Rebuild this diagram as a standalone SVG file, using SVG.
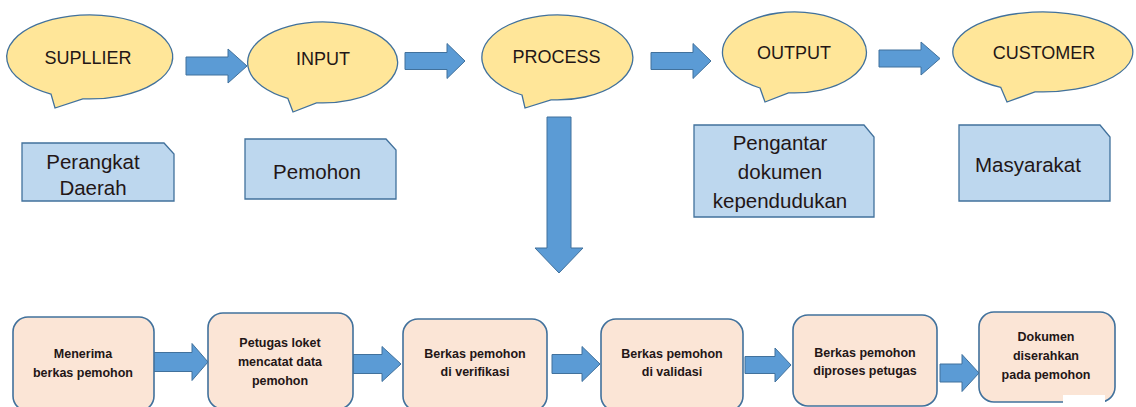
<svg xmlns="http://www.w3.org/2000/svg" width="1136" height="407" viewBox="0 0 1136 407">
<style>
.callout{fill:#FFE699;stroke:#41719C;stroke-width:1.3}
.doc{fill:#BDD7EE;stroke:#41719C;stroke-width:1.3}
.box{fill:#FBE5D6;stroke:#41719C;stroke-width:1.6}
.arrow{fill:#5B9BD5;stroke:#41719C;stroke-width:1}
.t1{font-family:"Liberation Sans",Arial,sans-serif;font-size:18px;fill:#231616;text-anchor:middle}
.t2{font-family:"Liberation Sans",Arial,sans-serif;font-size:20.5px;fill:#231616;text-anchor:middle}
.t3{font-family:"Liberation Sans",Arial,sans-serif;font-size:12.5px;font-weight:bold;fill:#231616;text-anchor:middle}
</style>
<rect width="1136" height="407" fill="#ffffff"/>
<g id="connectors">
<path class="arrow" d="M186,57 L228,57 L228,49 L247,66 L228,83 L228,75 L186,75 Z"/>
<path class="arrow" d="M405,52.5 L447,52.5 L447,43.5 L465,61 L447,78.5 L447,69.5 L405,69.5 Z"/>
<path class="arrow" d="M651,52.5 L693,52.5 L693,43.5 L711,61 L693,78.5 L693,69.5 L651,69.5 Z"/>
<path class="arrow" d="M879,50 L921,50 L921,42 L940,58.5 L921,75 L921,67 L879,67 Z"/>
<path class="arrow" d="M547,117 L571,117 L571,248 L583,248 L559,273 L535,248 L547,248 Z"/>
<path class="arrow" d="M153,352.5 L192,352.5 L192,343.5 L208,362 L192,380.5 L192,371.5 L153,371.5 Z"/>
<path class="arrow" d="M353,354.5 L382,354.5 L382,346.5 L401,364 L382,381.5 L382,373.5 L353,373.5 Z"/>
<path class="arrow" d="M552,354.5 L582,354.5 L582,346.5 L600,364 L582,381.5 L582,373.5 L552,373.5 Z"/>
<path class="arrow" d="M745,356.5 L775,356.5 L775,348 L791,365 L775,382 L775,373.5 L745,373.5 Z"/>
<path class="arrow" d="M940,364 L962,364 L962,354.5 L979,373 L962,391.5 L962,382 L940,382 Z"/>
</g>
<g id="supllier">
<path class="callout" d="M51,94.1 A83,42 0 1 1 82.8,98.8 L55,108 Z"/>
<text class="t1" x="88" y="64">SUPLLIER</text>
</g>
<g id="input">
<path class="callout" d="M287.8,98.3 A75,40.5 0 1 1 316.5,102.8 L293,112 Z"/>
<text class="t1" x="323" y="65">INPUT</text>
</g>
<g id="process">
<path class="callout" d="M522,95 A75.5,42.5 0 1 1 551,99.8 L525,108 Z"/>
<text class="t1" x="556.5" y="63">PROCESS</text>
</g>
<g id="output">
<path class="callout" d="M760,88 A72,40.5 0 1 1 788.5,92.8 L765,102 Z"/>
<text class="t1" x="794" y="59">OUTPUT</text>
</g>
<g id="customer">
<path class="callout" d="M1000.7,87.3 A90,40 0 1 1 1035,91.8 L1007,102 Z"/>
<text class="t1" x="1044" y="59">CUSTOMER</text>
</g>
<g id="doc-perangkat">
<path class="doc" d="M22,143 L164,143 L174,154 L174,201 L22,201 Z"/>
<text class="t2" x="93" y="169">Perangkat</text>
<text class="t2" x="93" y="195">Daerah</text>
</g>
<g id="doc-pemohon">
<path class="doc" d="M245,139 L386,139 L396,150 L396,199 L245,199 Z"/>
<text class="t2" x="317" y="179">Pemohon</text>
</g>
<g id="doc-pengantar">
<path class="doc" d="M694,125 L864,125 L874,137 L874,217 L694,217 Z"/>
<text class="t2" x="780" y="150">Pengantar</text>
<text class="t2" x="780" y="179">dokumen</text>
<text class="t2" x="780" y="208">kependudukan</text>
</g>
<g id="doc-masyarakat">
<path class="doc" d="M959,125 L1100,125 L1110,137 L1110,201 L959,201 Z"/>
<text class="t2" x="1028" y="172">Masyarakat</text>
</g>
<g id="step1">
<rect class="box" x="13" y="317" width="141" height="94" rx="15"/>
<text class="t3" x="83" y="358">Menerima</text>
<text class="t3" x="83" y="377">berkas pemohon</text>
</g>
<g id="step2">
<rect class="box" x="208" y="313" width="145" height="96" rx="15"/>
<text class="t3" x="280" y="347">Petugas loket</text>
<text class="t3" x="280" y="366">mencatat data</text>
<text class="t3" x="280" y="385">pemohon</text>
</g>
<g id="step3">
<rect class="box" x="403" y="319" width="144" height="92" rx="15"/>
<text class="t3" x="475" y="358">Berkas pemohon</text>
<text class="t3" x="475" y="376">di verifikasi</text>
</g>
<g id="step4">
<rect class="box" x="601" y="319" width="142" height="92" rx="15"/>
<text class="t3" x="672" y="358">Berkas pemohon</text>
<text class="t3" x="672" y="376">di validasi</text>
</g>
<g id="step5">
<rect class="box" x="793" y="315" width="144" height="91" rx="15"/>
<text class="t3" x="865" y="357">Berkas pemohon</text>
<text class="t3" x="865" y="375">diproses  petugas</text>
</g>
<g id="step6">
<rect class="box" x="979" y="312" width="136" height="90" rx="15"/>
<text class="t3" x="1046" y="341">Dokumen</text>
<text class="t3" x="1046" y="360">diserahkan</text>
<text class="t3" x="1046" y="379">pada pemohon</text>
</g>
<rect x="1063" y="395" width="42" height="12" fill="#ffffff"/>
</svg>
